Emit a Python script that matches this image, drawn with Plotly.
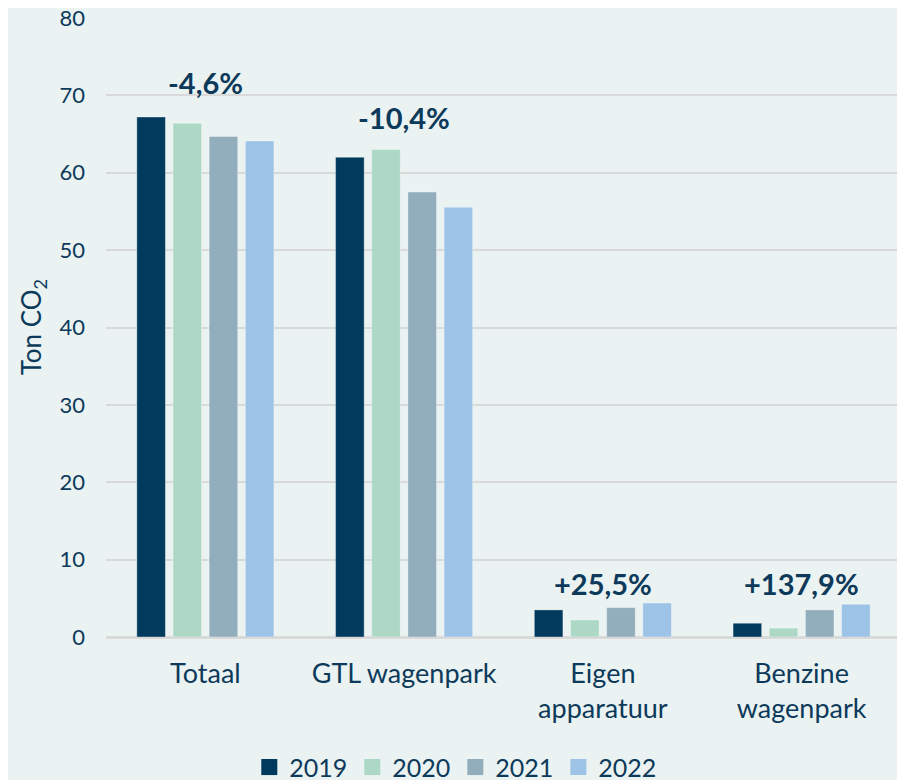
import plotly.graph_objects as go

categories = ["Totaal", "GTL wagenpark", "Eigen<br>apparatuur", "Benzine<br>wagenpark"]
years = ["2019", "2020", "2021", "2022"]
values_2019 = [67.2, 62.0, 3.5, 1.78]
values_2020 = [66.4, 63.0, 2.2, 1.15]
values_2021 = [64.7, 57.5, 3.8, 3.5]
values_2022 = [64.1, 55.55, 4.39, 4.23]
change_labels = ["-4,6%", "-10,4%", "+25,5%", "+137,9%"]
y_ticks = [0, 10, 20, 30, 40, 50, 60, 70, 80]

series = [values_2019, values_2020, values_2021, values_2022]
colors = ["#003A5C", "#ADD8C5", "#92ADBB", "#9DC3E6"]
text_color = "#0D3A5A"
bg = "#EAF2F2"
font_family = "Lato"

fig = go.Figure()
for yr, vals, col in zip(years, series, colors):
    fig.add_trace(go.Bar(x=categories, y=vals, name=yr, marker_color=col,
                         marker_line=dict(color="rgba(255,255,255,0.35)", width=1),
                         showlegend=False))
for yr, col in zip(years, colors):
    fig.add_trace(go.Scatter(x=[None], y=[None], mode="markers", name=yr,
                             marker=dict(symbol="square", size=16, color=col)))

label_shift = [35, 32, 20, 21]
for cat, lab, shift, *vals in zip(categories, change_labels, label_shift, *series):
    fig.add_annotation(x=cat, y=max(vals), text=f"<b>{lab}</b>", showarrow=False,
                       yanchor="middle", yshift=shift,
                       font=dict(size=29, color=text_color, family=font_family))

fig.add_annotation(x=-0.092, y=0.5, xref="paper", yref="paper", text="Ton CO<sub>2</sub>",
                   textangle=-90, showarrow=False, xanchor="center", yanchor="middle",
                   font=dict(size=26, color=text_color, family=font_family))

fig.update_layout(
    width=905, height=780,
    margin=dict(l=97.5, r=11.5, t=10, b=151, autoexpand=False),
    paper_bgcolor=bg, plot_bgcolor=bg,
    barmode="group", bargap=0.272, bargroupgap=0.21,
    font=dict(family=font_family, color=text_color),
    legend=dict(orientation="h", x=0.440, xanchor="center", xref="paper",
                y=0.056, yanchor="top", yref="container",
                font=dict(size=25, color=text_color, family=font_family),
                itemwidth=30, tracegroupgap=0),
    xaxis=dict(tickfont=dict(size=27, color=text_color), showgrid=False,
               showline=False, ticks="", ticklabelstandoff=18, automargin=False),
    yaxis=dict(range=[0, 80], tickvals=y_ticks, showgrid=True, gridcolor="#D9D9D9",
               gridwidth=1.5, zeroline=True, zerolinecolor="#D9D9D9", zerolinewidth=2.5,
               tickfont=dict(size=22, color=text_color), ticks="", ticklabelstandoff=20,
               ticklabeloverflow="allow", showline=False, automargin=False),
)

fig.write_html("out.html")
